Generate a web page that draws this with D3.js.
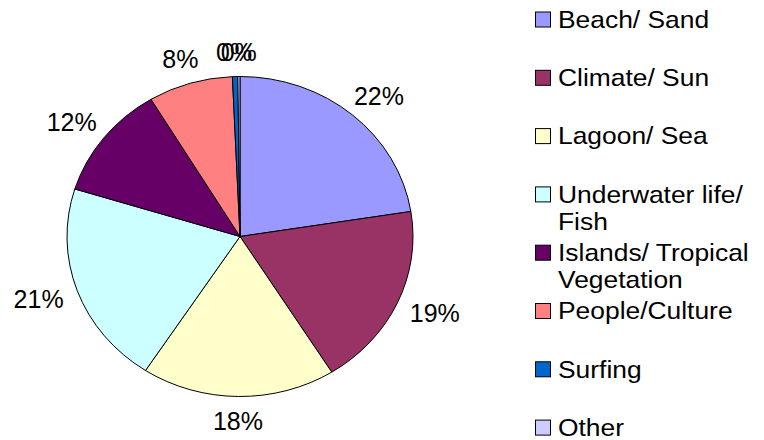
<!DOCTYPE html>
<html>
<head>
<meta charset="utf-8">
<script src="https://cdn.jsdelivr.net/npm/d3@7"></script>
<style>
  html, body { margin: 0; padding: 0; background: #fff; }
  svg { display: block; }
  text { font-family: Arial, "Liberation Sans", Helvetica, sans-serif; fill: #000; }
</style>
</head>
<body>
<svg id="chart" width="764" height="440"></svg>
<script>
// ---- data ----
const categories = ["Beach/ Sand", "Climate/ Sun", "Lagoon/ Sea", "Underwater life/ Fish",
                    "Islands/ Tropical Vegetation", "People/Culture", "Surfing", "Other"];
const legendLines = [["Beach/ Sand"], ["Climate/ Sun"], ["Lagoon/ Sea"], ["Underwater life/", "Fish"],
                     ["Islands/ Tropical", "Vegetation"], ["People/Culture"], ["Surfing"], ["Other"]];
const values = [22.5, 18.6, 18.1, 20.6, 11.6, 7.9, 0.5, 0.2];
const colors = ["#9999FF", "#993366", "#FFFFCC", "#CCFFFF", "#660066", "#FF8080", "#0066CC", "#CCCCFF"];

// ---- layout ----
const svg = d3.select("#chart");
const cx = 240, cy = 236.5, rx = 173, ry = 160;
const sy = ry / rx;
const labelFont = 25, legendFont = 24, legendStretch = 1.1;

const pie = d3.pie().sort(null).value(d => d)(values);
const arc = d3.arc().innerRadius(0).outerRadius(rx);

const g = svg.append("g").attr("transform", `translate(${cx},${cy}) scale(1,${sy})`);
g.selectAll("path").data(pie).join("path")
  .attr("d", arc)
  .attr("fill", (d, i) => colors[i])
  .attr("stroke", "#000")
  .attr("stroke-width", 1)
  .attr("vector-effect", "non-scaling-stroke")
  .attr("stroke-linejoin", "round");

// labels
const fmt = d3.format(".0%");
const total = d3.sum(values);
const gap = 16;
const lab = svg.append("g");
pie.forEach((d, i) => {
  const a = (d.startAngle + d.endAngle) / 2;
  const s = Math.sin(a), c = Math.cos(a);
  const txt = fmt(values[i] / total);
  const t = lab.append("text")
    .attr("font-size", labelFont)
    .attr("text-anchor", "middle")
    .text(txt);
  const w = t.node().getComputedTextLength();
  const hh = labelFont * 0.36;
  const x = cx + (rx + gap + w / 2) * s;
  const y = cy - (ry + gap + hh) * c;
  t.attr("x", x).attr("y", y + hh);
});

// legend
const legX = 535, legY0 = 19.5, legStep = 58.3, lineH = 27;
const leg = svg.append("g");
legendLines.forEach((lines, i) => {
  const yc = legY0 + i * legStep;
  leg.append("rect")
    .attr("x", legX + 0.5).attr("y", yc - 7.5)
    .attr("width", 15).attr("height", 15)
    .attr("fill", colors[i]).attr("stroke", "#000").attr("stroke-width", 1);
  const tx = legX + 23;
  const t = leg.append("text").attr("font-size", legendFont)
    .attr("transform", `translate(${tx},0) scale(${legendStretch},1)`);
  lines.forEach((ln, j) => {
    t.append("tspan").attr("x", 0).attr("y", yc + legendFont * 0.35 + j * lineH).text(ln);
  });
});
</script>
</body>
</html>
